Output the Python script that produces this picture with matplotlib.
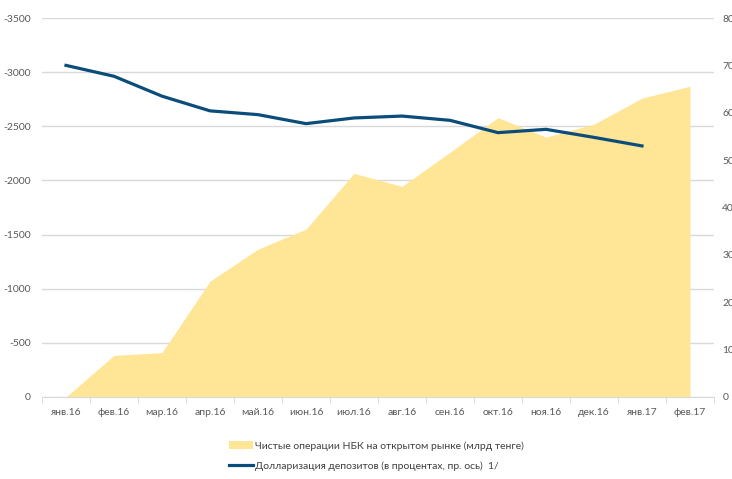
import matplotlib
matplotlib.use("Agg")
import matplotlib.pyplot as plt
from matplotlib.ticker import FixedLocator, FuncFormatter
from matplotlib.lines import Line2D
from matplotlib.patches import Patch

plt.rcParams["font.family"] = ["Lato", "DejaVu Sans"]
plt.rcParams["axes.unicode_minus"] = False

months = ["янв.16", "фев.16", "мар.16", "апр.16", "май.16", "июн.16", "июл.16",
          "авг.16", "сен.16", "окт.16", "ноя.16", "дек.16", "янв.17", "фев.17"]
# net NBK open-market operations, bn tenge (left axis, inverted)
net_ops = [0, -385, -410, -1070, -1365, -1550, -2065, -1945, -2260, -2580,
           -2400, -2520, -2760, -2870]
# deposit dollarization, % (right axis); no value for фев.17
dollarization = [70.0, 67.7, 63.5, 60.4, 59.6, 57.7, 58.9, 59.3, 58.4, 55.8,
                 56.5, 54.8, 53.0]
left_ticks = [0, -500, -1000, -1500, -2000, -2500, -3000, -3500]
right_ticks = [0, 10, 20, 30, 40, 50, 60, 70, 80]

FILL = "#FFE596"
LINE = "#0B4D7A"
GRID = "#D9D9D9"
TXT = "#595959"

W, H = 732, 479
fig = plt.figure(figsize=(W / 100, H / 100), dpi=100)
ax = fig.add_axes([42 / W, 1 - 397 / H, 672 / W, 379 / H])
x = list(range(len(months)))

ax.fill_between(x, 0, net_ops, color=FILL, lw=0, zorder=2)
ax.set_xlim(-0.5, len(months) - 0.5)
ax.set_ylim(0, -3500)
ax.yaxis.set_major_locator(FixedLocator(left_ticks))
ax.yaxis.set_major_formatter(FuncFormatter(lambda v, p: f"{int(round(v))}"))
ax.grid(True, axis="y", color=GRID, lw=1, zorder=0)
ax.set_axisbelow(True)
for s in ["top", "right", "left"]:
    ax.spines[s].set_visible(False)
ax.spines["bottom"].set_color(GRID)
ax.set_xticks(x)
ax.set_xticklabels(months)
ax.set_xticks([i - 0.5 for i in range(len(months) + 1)], minor=True)
ax.tick_params(axis="x", which="major", length=0, pad=8, labelsize=7.5, labelcolor=TXT)
ax.tick_params(axis="x", which="minor", length=4, color=GRID, direction="out")
ax.tick_params(axis="y", length=0, pad=8, labelsize=7.5, labelcolor=TXT)

ax2 = ax.twinx()
ax2.plot(x[:len(dollarization)], dollarization, color=LINE, lw=2.3, zorder=3)
ax2.set_ylim(0, 80)
ax2.yaxis.set_major_locator(FixedLocator(right_ticks))
ax2.tick_params(axis="y", length=0, pad=6, labelsize=7.5, labelcolor=TXT)
for s in ax2.spines.values():
    s.set_visible(False)

handles = [Patch(color=FILL, lw=0), Line2D([], [], color=LINE, lw=2.3)]
labels = ["Чистые операции НБК на открытом рынке (млрд тенге)",
          "Долларизация депозитов (в процентах, пр. ось)  1/"]
fig.legend(handles, labels, loc="upper left", bbox_to_anchor=(224 / W, 1 - 436 / H),
           frameon=False, fontsize=7.5, labelcolor="#404040", handlelength=2.3,
           handletextpad=0.2, labelspacing=1.0, borderpad=0)

fig.savefig("out.png", dpi=100)
